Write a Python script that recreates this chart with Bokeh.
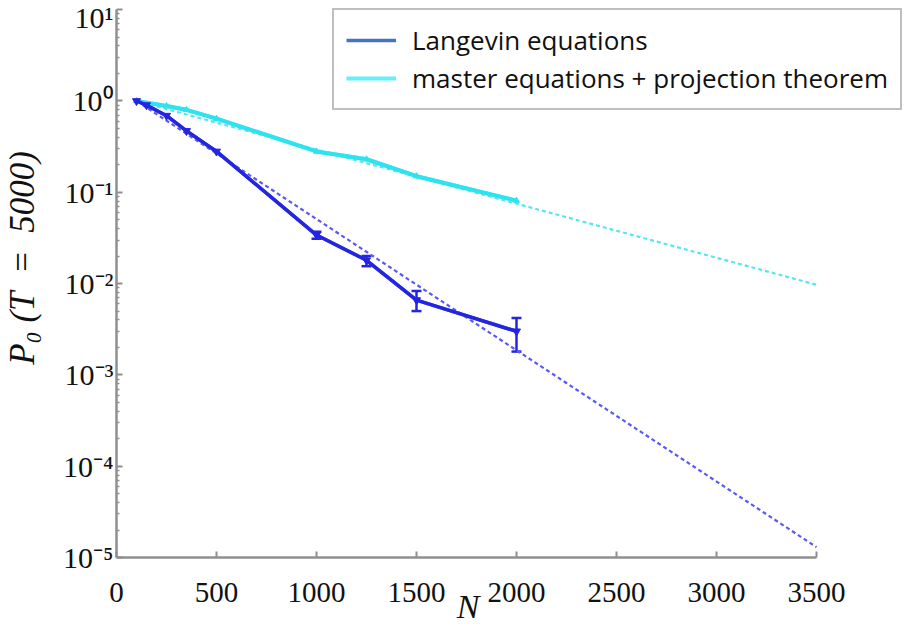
from bokeh.plotting import figure
from bokeh.models import (ColumnDataSource, Whisker, TeeHead, Legend, LegendItem,
                          FixedTicker, CustomJSTickFormatter, Range1d)
from bokeh.embed import file_html
from bokeh.resources import INLINE

# ---------------- data ----------------
N_LANGEVIN = [100, 150, 250, 350, 500, 1000, 1250, 1500, 2000]
P_LANGEVIN = [1.0, 0.90, 0.69, 0.47, 0.28, 0.034, 0.018, 0.0066, 0.0030]

ERR_N = [1000, 1250, 1500, 2000]
ERR_LO = [0.031, 0.0155, 0.0050, 0.0018]
ERR_HI = [0.037, 0.0200, 0.0083, 0.0042]

N_MASTER = [100, 250, 350, 500, 1000, 1250, 1500, 2000]
P_MASTER = [1.0, 0.88, 0.80, 0.64, 0.28, 0.23, 0.15, 0.081]

FIT_N = [100, 3500]
FIT_LANGEVIN = [1.0, 1.3e-5]
FIT_MASTER = [1.0, 0.0097]

X_TICKS = [0, 500, 1000, 1500, 2000, 2500, 3000, 3500]
Y_TICKS = [1e-5, 1e-4, 1e-3, 1e-2, 1e-1, 1, 10]
Y_MINOR = [k * 10.0 ** e for e in range(-5, 1) for k in range(2, 10)]

LEGEND_LABELS = ["Langevin equations", "master equations + projection theorem"]

# ---------------- colours ----------------
BLUE = "#2424e2"
BLUE_FIT = "#5a5af0"
CYAN = "#2fe2f0"
CYAN_FIT = "#55e6f4"
LEG_BLUE = "#4472c4"
LEG_CYAN = "#62f0fa"
AXIS_GREY = "#8f8f8f"

p = figure(width=904, height=627,
           x_range=Range1d(0, 3940), y_range=Range1d(1e-5, 12.6),
           y_axis_type="log", output_backend="svg", toolbar_location=None,
           min_border_left=116, min_border_right=0,
           min_border_top=0, min_border_bottom=70)
p.outline_line_color = None
p.grid.visible = False
p.background_fill_color = "white"
p.border_fill_color = "white"

# legend-coloured copies, hidden beneath the data lines (used only for the legend swatches)
leg_l = p.line(N_LANGEVIN, P_LANGEVIN, line_color=LEG_BLUE, line_width=3.5)
leg_m = p.line(N_MASTER, P_MASTER, line_color=LEG_CYAN, line_width=4)

# fit lines (dashed)
p.line(FIT_N, FIT_LANGEVIN, line_color=BLUE_FIT, line_width=2.2, line_dash="4 3")
p.line(FIT_N, FIT_MASTER, line_color=CYAN_FIT, line_width=2.2, line_dash="4 3")

# master equations
p.line(N_MASTER, P_MASTER, line_color=CYAN, line_width=4)
p.scatter(N_MASTER, P_MASTER, marker="triangle", size=6, color=CYAN)

# Langevin equations
p.line(N_LANGEVIN, P_LANGEVIN, line_color=BLUE, line_width=3.5)
p.scatter(N_LANGEVIN, P_LANGEVIN, marker="inverted_triangle", size=8, color=BLUE)

err_src = ColumnDataSource(dict(n=ERR_N, lo=ERR_LO, hi=ERR_HI))
p.add_layout(Whisker(base="n", lower="lo", upper="hi", source=err_src,
                     line_color=BLUE, line_width=2.5,
                     upper_head=TeeHead(size=10, line_color=BLUE, line_width=2.5),
                     lower_head=TeeHead(size=10, line_color=BLUE, line_width=2.5)))

# axes
for ax in (p.xaxis[0], p.yaxis[0]):
    ax.axis_line_color = AXIS_GREY
    ax.axis_line_width = 2.5
    ax.major_tick_line_color = AXIS_GREY
    ax.major_tick_line_width = 2
    ax.major_tick_in = 6
    ax.major_tick_out = 0
    ax.minor_tick_line_color = AXIS_GREY
    ax.minor_tick_line_width = 1.5
    ax.minor_tick_in = 3
    ax.minor_tick_out = 0
    ax.major_label_text_font = "Liberation Serif"
    ax.major_label_text_color = "#111111"
    ax.axis_label_text_font = "Liberation Serif"
    ax.axis_label_text_font_style = "italic"
    ax.axis_label_text_color = "#111111"

xa = p.xaxis[0]
xa.ticker = FixedTicker(ticks=X_TICKS)
xa.bounds = (0, 3500)
xa.minor_tick_line_color = None
xa.major_label_text_font_size = "29px"
xa.major_label_standoff = 25
# trailing em/en spaces move the centred "N" back under the middle of the 0-3500 axis
xa.axis_label = "N\u2003\u2003\u2002"
xa.axis_label_text_font_size = "34px"
xa.axis_label_standoff = -17

ya = p.yaxis[0]
ya.ticker = FixedTicker(ticks=Y_TICKS, minor_ticks=Y_MINOR)
ya.bounds = (1e-5, 10)
ya.formatter = CustomJSTickFormatter(code="""
    const sup = {"0":"\u2070","1":"\u00b9","2":"\u00b2","3":"\u00b3","4":"\u2074",
                 "5":"\u2075","6":"\u2076","7":"\u2077","8":"\u2078","9":"\u2079","-":"\u207b"};
    const e = Math.round(Math.log10(tick));
    return "10" + String(e).split("").map(c => sup[c]).join("");
""")
ya.major_label_text_font_size = "30px"
ya.major_label_standoff = 3
ya.axis_label = "\u2003\u2009P\u2080 (T\u2002=\u20025000)"
ya.axis_label_text_font_size = "35px"
ya.axis_label_standoff = 18

legend = Legend(items=[LegendItem(label=LEGEND_LABELS[0], renderers=[leg_l]),
                       LegendItem(label=LEGEND_LABELS[1], renderers=[leg_m])],
                location=(216, 447),
                label_text_font="Open Sans", label_text_font_size="26px",
                label_text_color="#111111",
                glyph_width=50, glyph_height=20, label_standoff=16,
                padding=12, spacing=2, margin=0,
                border_line_color="#7f7f7f", border_line_width=2,
                background_fill_color="white", background_fill_alpha=1.0)
p.add_layout(legend)

open("out.html", "w").write(file_html(p, INLINE))
